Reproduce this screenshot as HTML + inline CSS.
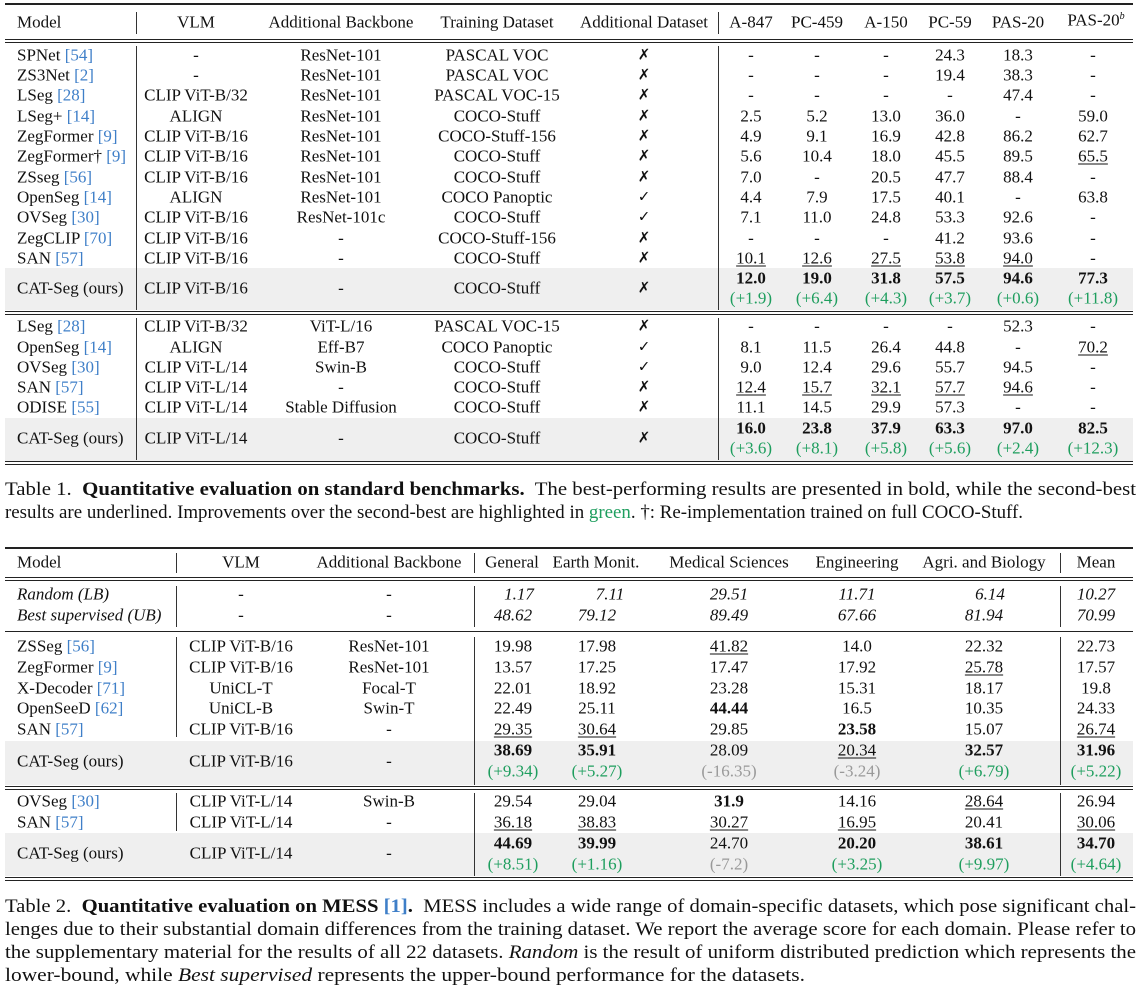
<!DOCTYPE html>
<html><head><meta charset="utf-8"><style>
*{margin:0;padding:0;box-sizing:border-box}
body{width:1141px;height:988px;background:#fff;position:relative;overflow:hidden;font-family:"Liberation Serif","DejaVu Serif",serif;font-size:17px;color:#111}
.c{position:absolute;transform:translate(-50%,-50%);white-space:nowrap;line-height:1}
.l{position:absolute;transform:translateY(-50%);white-space:nowrap;line-height:1}
.h{position:absolute;background:#222}
.v{position:absolute;width:1px;background:#333}
.g{position:absolute;background:#efefef}
.r{color:#3f7fc8}
.gr{color:#1e9e5e}
.gy{color:#999}
.u{text-decoration:underline;text-decoration-thickness:1px;text-underline-offset:2px}
b{font-weight:bold}
i{font-style:italic}
.ck{font-family:"DejaVu Sans",sans-serif;font-size:15px}
.cap{position:absolute;left:5px;white-space:nowrap;line-height:1;font-size:19px;transform-origin:0 50%;word-spacing:0}
</style></head><body>

<!-- ============ TABLE 1 ============ -->
<div class="g" style="left:5px;top:268px;width:1128px;height:42px"></div>
<div class="g" style="left:5px;top:418px;width:1128px;height:43px"></div>
<div class="h" style="left:5px;top:3px;width:1128px;height:1.5px"></div>
<div class="h" style="left:5px;top:39px;width:1128px;height:1px"></div>
<div class="h" style="left:5px;top:42px;width:1128px;height:1px"></div>
<div class="h" style="left:5px;top:311px;width:1128px;height:1px"></div>
<div class="h" style="left:5px;top:314px;width:1128px;height:1px"></div>
<div class="h" style="left:5px;top:461px;width:1128px;height:1px"></div>
<div class="h" style="left:5px;top:464px;width:1128px;height:1px"></div>
<div class="v" style="left:136px;top:12px;height:22px"></div>
<div class="v" style="left:718px;top:12px;height:22px"></div>
<div class="v" style="left:136px;top:46px;height:264px"></div>
<div class="v" style="left:718px;top:46px;height:264px"></div>
<div class="v" style="left:136px;top:318px;height:142px"></div>
<div class="v" style="left:718px;top:318px;height:142px"></div>

<div class="l" style="left:17px;top:22px">Model</div>
<div class="c" style="left:196px;top:22px">VLM</div>
<div class="c" style="left:341px;top:22px">Additional Backbone</div>
<div class="c" style="left:497px;top:22px">Training Dataset</div>
<div class="c" style="left:644px;top:22px">Additional Dataset</div>
<div class="c" style="left:751px;top:22px">A-847</div>
<div class="c" style="left:817px;top:22px">PC-459</div>
<div class="c" style="left:886px;top:22px">A-150</div>
<div class="c" style="left:950px;top:22px">PC-59</div>
<div class="c" style="left:1018px;top:22px">PAS-20</div>
<div class="c" style="left:1096px;top:20px">PAS-20<sup style="font-size:10px;font-style:italic">b</sup></div>

<div class="l" style="left:17px;top:55px">SPNet <span class="r">[54]</span></div>
<div class="c" style="left:196px;top:55px">-</div><div class="c" style="left:341px;top:55px">ResNet-101</div><div class="c" style="left:497px;top:55px">PASCAL VOC</div><div class="c ck" style="left:644px;top:55px">✗</div>
<div class="c" style="left:751px;top:55px">-</div><div class="c" style="left:817px;top:55px">-</div><div class="c" style="left:886px;top:55px">-</div><div class="c" style="left:950px;top:55px">24.3</div><div class="c" style="left:1018px;top:55px">18.3</div><div class="c" style="left:1093px;top:55px">-</div>

<div class="l" style="left:17px;top:75px">ZS3Net <span class="r">[2]</span></div>
<div class="c" style="left:196px;top:75px">-</div><div class="c" style="left:341px;top:75px">ResNet-101</div><div class="c" style="left:497px;top:75px">PASCAL VOC</div><div class="c ck" style="left:644px;top:75px">✗</div>
<div class="c" style="left:751px;top:75px">-</div><div class="c" style="left:817px;top:75px">-</div><div class="c" style="left:886px;top:75px">-</div><div class="c" style="left:950px;top:75px">19.4</div><div class="c" style="left:1018px;top:75px">38.3</div><div class="c" style="left:1093px;top:75px">-</div>

<div class="l" style="left:17px;top:95px">LSeg <span class="r">[28]</span></div>
<div class="c" style="left:196px;top:95px">CLIP ViT-B/32</div><div class="c" style="left:341px;top:95px">ResNet-101</div><div class="c" style="left:497px;top:95px">PASCAL VOC-15</div><div class="c ck" style="left:644px;top:95px">✗</div>
<div class="c" style="left:751px;top:95px">-</div><div class="c" style="left:817px;top:95px">-</div><div class="c" style="left:886px;top:95px">-</div><div class="c" style="left:950px;top:95px">-</div><div class="c" style="left:1018px;top:95px">47.4</div><div class="c" style="left:1093px;top:95px">-</div>

<div class="l" style="left:17px;top:116px">LSeg+ <span class="r">[14]</span></div>
<div class="c" style="left:196px;top:116px">ALIGN</div><div class="c" style="left:341px;top:116px">ResNet-101</div><div class="c" style="left:497px;top:116px">COCO-Stuff</div><div class="c ck" style="left:644px;top:116px">✗</div>
<div class="c" style="left:751px;top:116px">2.5</div><div class="c" style="left:817px;top:116px">5.2</div><div class="c" style="left:886px;top:116px">13.0</div><div class="c" style="left:950px;top:116px">36.0</div><div class="c" style="left:1018px;top:116px">-</div><div class="c" style="left:1093px;top:116px">59.0</div>

<div class="l" style="left:17px;top:136px">ZegFormer <span class="r">[9]</span></div>
<div class="c" style="left:196px;top:136px">CLIP ViT-B/16</div><div class="c" style="left:341px;top:136px">ResNet-101</div><div class="c" style="left:497px;top:136px">COCO-Stuff-156</div><div class="c ck" style="left:644px;top:136px">✗</div>
<div class="c" style="left:751px;top:136px">4.9</div><div class="c" style="left:817px;top:136px">9.1</div><div class="c" style="left:886px;top:136px">16.9</div><div class="c" style="left:950px;top:136px">42.8</div><div class="c" style="left:1018px;top:136px">86.2</div><div class="c" style="left:1093px;top:136px">62.7</div>

<div class="l" style="left:17px;top:156px">ZegFormer† <span class="r">[9]</span></div>
<div class="c" style="left:196px;top:156px">CLIP ViT-B/16</div><div class="c" style="left:341px;top:156px">ResNet-101</div><div class="c" style="left:497px;top:156px">COCO-Stuff</div><div class="c ck" style="left:644px;top:156px">✗</div>
<div class="c" style="left:751px;top:156px">5.6</div><div class="c" style="left:817px;top:156px">10.4</div><div class="c" style="left:886px;top:156px">18.0</div><div class="c" style="left:950px;top:156px">45.5</div><div class="c" style="left:1018px;top:156px">89.5</div><div class="c u" style="left:1093px;top:156px">65.5</div>

<div class="l" style="left:17px;top:177px">ZSseg <span class="r">[56]</span></div>
<div class="c" style="left:196px;top:177px">CLIP ViT-B/16</div><div class="c" style="left:341px;top:177px">ResNet-101</div><div class="c" style="left:497px;top:177px">COCO-Stuff</div><div class="c ck" style="left:644px;top:177px">✗</div>
<div class="c" style="left:751px;top:177px">7.0</div><div class="c" style="left:817px;top:177px">-</div><div class="c" style="left:886px;top:177px">20.5</div><div class="c" style="left:950px;top:177px">47.7</div><div class="c" style="left:1018px;top:177px">88.4</div><div class="c" style="left:1093px;top:177px">-</div>

<div class="l" style="left:17px;top:197px">OpenSeg <span class="r">[14]</span></div>
<div class="c" style="left:196px;top:197px">ALIGN</div><div class="c" style="left:341px;top:197px">ResNet-101</div><div class="c" style="left:497px;top:197px">COCO Panoptic</div><div class="c ck" style="left:644px;top:197px">✓</div>
<div class="c" style="left:751px;top:197px">4.4</div><div class="c" style="left:817px;top:197px">7.9</div><div class="c" style="left:886px;top:197px">17.5</div><div class="c" style="left:950px;top:197px">40.1</div><div class="c" style="left:1018px;top:197px">-</div><div class="c" style="left:1093px;top:197px">63.8</div>

<div class="l" style="left:17px;top:217px">OVSeg <span class="r">[30]</span></div>
<div class="c" style="left:196px;top:217px">CLIP ViT-B/16</div><div class="c" style="left:341px;top:217px">ResNet-101c</div><div class="c" style="left:497px;top:217px">COCO-Stuff</div><div class="c ck" style="left:644px;top:217px">✓</div>
<div class="c" style="left:751px;top:217px">7.1</div><div class="c" style="left:817px;top:217px">11.0</div><div class="c" style="left:886px;top:217px">24.8</div><div class="c" style="left:950px;top:217px">53.3</div><div class="c" style="left:1018px;top:217px">92.6</div><div class="c" style="left:1093px;top:217px">-</div>

<div class="l" style="left:17px;top:238px">ZegCLIP <span class="r">[70]</span></div>
<div class="c" style="left:196px;top:238px">CLIP ViT-B/16</div><div class="c" style="left:341px;top:238px">-</div><div class="c" style="left:497px;top:238px">COCO-Stuff-156</div><div class="c ck" style="left:644px;top:238px">✗</div>
<div class="c" style="left:751px;top:238px">-</div><div class="c" style="left:817px;top:238px">-</div><div class="c" style="left:886px;top:238px">-</div><div class="c" style="left:950px;top:238px">41.2</div><div class="c" style="left:1018px;top:238px">93.6</div><div class="c" style="left:1093px;top:238px">-</div>

<div class="l" style="left:17px;top:258px">SAN <span class="r">[57]</span></div>
<div class="c" style="left:196px;top:258px">CLIP ViT-B/16</div><div class="c" style="left:341px;top:258px">-</div><div class="c" style="left:497px;top:258px">COCO-Stuff</div><div class="c ck" style="left:644px;top:258px">✗</div>
<div class="c u" style="left:751px;top:258px">10.1</div><div class="c u" style="left:817px;top:258px">12.6</div><div class="c u" style="left:886px;top:258px">27.5</div><div class="c u" style="left:950px;top:258px">53.8</div><div class="c u" style="left:1018px;top:258px">94.0</div><div class="c" style="left:1093px;top:258px">-</div>

<div class="l" style="left:17px;top:288px">CAT-Seg (ours)</div>
<div class="c" style="left:196px;top:288px">CLIP ViT-B/16</div><div class="c" style="left:341px;top:288px">-</div><div class="c" style="left:497px;top:288px">COCO-Stuff</div><div class="c ck" style="left:644px;top:288px">✗</div>
<div class="c" style="left:751px;top:278px"><b>12.0</b></div><div class="c" style="left:817px;top:278px"><b>19.0</b></div><div class="c" style="left:886px;top:278px"><b>31.8</b></div><div class="c" style="left:950px;top:278px"><b>57.5</b></div><div class="c" style="left:1018px;top:278px"><b>94.6</b></div><div class="c" style="left:1093px;top:278px"><b>77.3</b></div>
<div class="c gr" style="left:751px;top:298px">(+1.9)</div><div class="c gr" style="left:817px;top:298px">(+6.4)</div><div class="c gr" style="left:886px;top:298px">(+4.3)</div><div class="c gr" style="left:950px;top:298px">(+3.7)</div><div class="c gr" style="left:1018px;top:298px">(+0.6)</div><div class="c gr" style="left:1093px;top:298px">(+11.8)</div>

<div class="l" style="left:17px;top:326px">LSeg <span class="r">[28]</span></div>
<div class="c" style="left:196px;top:326px">CLIP ViT-B/32</div><div class="c" style="left:341px;top:326px">ViT-L/16</div><div class="c" style="left:497px;top:326px">PASCAL VOC-15</div><div class="c ck" style="left:644px;top:326px">✗</div>
<div class="c" style="left:751px;top:326px">-</div><div class="c" style="left:817px;top:326px">-</div><div class="c" style="left:886px;top:326px">-</div><div class="c" style="left:950px;top:326px">-</div><div class="c" style="left:1018px;top:326px">52.3</div><div class="c" style="left:1093px;top:326px">-</div>

<div class="l" style="left:17px;top:347px">OpenSeg <span class="r">[14]</span></div>
<div class="c" style="left:196px;top:347px">ALIGN</div><div class="c" style="left:341px;top:347px">Eff-B7</div><div class="c" style="left:497px;top:347px">COCO Panoptic</div><div class="c ck" style="left:644px;top:347px">✓</div>
<div class="c" style="left:751px;top:347px">8.1</div><div class="c" style="left:817px;top:347px">11.5</div><div class="c" style="left:886px;top:347px">26.4</div><div class="c" style="left:950px;top:347px">44.8</div><div class="c" style="left:1018px;top:347px">-</div><div class="c u" style="left:1093px;top:347px">70.2</div>

<div class="l" style="left:17px;top:367px">OVSeg <span class="r">[30]</span></div>
<div class="c" style="left:196px;top:367px">CLIP ViT-L/14</div><div class="c" style="left:341px;top:367px">Swin-B</div><div class="c" style="left:497px;top:367px">COCO-Stuff</div><div class="c ck" style="left:644px;top:367px">✓</div>
<div class="c" style="left:751px;top:367px">9.0</div><div class="c" style="left:817px;top:367px">12.4</div><div class="c" style="left:886px;top:367px">29.6</div><div class="c" style="left:950px;top:367px">55.7</div><div class="c" style="left:1018px;top:367px">94.5</div><div class="c" style="left:1093px;top:367px">-</div>

<div class="l" style="left:17px;top:387px">SAN <span class="r">[57]</span></div>
<div class="c" style="left:196px;top:387px">CLIP ViT-L/14</div><div class="c" style="left:341px;top:387px">-</div><div class="c" style="left:497px;top:387px">COCO-Stuff</div><div class="c ck" style="left:644px;top:387px">✗</div>
<div class="c u" style="left:751px;top:387px">12.4</div><div class="c u" style="left:817px;top:387px">15.7</div><div class="c u" style="left:886px;top:387px">32.1</div><div class="c u" style="left:950px;top:387px">57.7</div><div class="c u" style="left:1018px;top:387px">94.6</div><div class="c" style="left:1093px;top:387px">-</div>

<div class="l" style="left:17px;top:407px">ODISE <span class="r">[55]</span></div>
<div class="c" style="left:196px;top:407px">CLIP ViT-L/14</div><div class="c" style="left:341px;top:407px">Stable Diffusion</div><div class="c" style="left:497px;top:407px">COCO-Stuff</div><div class="c ck" style="left:644px;top:407px">✗</div>
<div class="c" style="left:751px;top:407px">11.1</div><div class="c" style="left:817px;top:407px">14.5</div><div class="c" style="left:886px;top:407px">29.9</div><div class="c" style="left:950px;top:407px">57.3</div><div class="c" style="left:1018px;top:407px">-</div><div class="c" style="left:1093px;top:407px">-</div>

<div class="l" style="left:17px;top:438px">CAT-Seg (ours)</div>
<div class="c" style="left:196px;top:438px">CLIP ViT-L/14</div><div class="c" style="left:341px;top:438px">-</div><div class="c" style="left:497px;top:438px">COCO-Stuff</div><div class="c ck" style="left:644px;top:438px">✗</div>
<div class="c" style="left:751px;top:428px"><b>16.0</b></div><div class="c" style="left:817px;top:428px"><b>23.8</b></div><div class="c" style="left:886px;top:428px"><b>37.9</b></div><div class="c" style="left:950px;top:428px"><b>63.3</b></div><div class="c" style="left:1018px;top:428px"><b>97.0</b></div><div class="c" style="left:1093px;top:428px"><b>82.5</b></div>
<div class="c gr" style="left:751px;top:448px">(+3.6)</div><div class="c gr" style="left:817px;top:448px">(+8.1)</div><div class="c gr" style="left:886px;top:448px">(+5.8)</div><div class="c gr" style="left:950px;top:448px">(+5.6)</div><div class="c gr" style="left:1018px;top:448px">(+2.4)</div><div class="c gr" style="left:1093px;top:448px">(+12.3)</div>

<div class="cap" data-w="1131" style="top:480px">Table 1.&nbsp; <b>Quantitative evaluation on standard benchmarks.</b>&nbsp; The best-performing results are presented in bold, while the second-best</div>
<div class="cap" data-w="1018" style="top:503px">results are underlined. Improvements over the second-best are highlighted in <span class="gr">green</span>. †: Re-implementation trained on full COCO-Stuff.</div>

<!-- ============ TABLE 2 ============ -->
<div class="g" style="left:5px;top:741px;width:1128px;height:44px"></div>
<div class="g" style="left:5px;top:833px;width:1128px;height:43px"></div>
<div class="h" style="left:5px;top:547px;width:1128px;height:1.5px"></div>
<div class="h" style="left:5px;top:577px;width:1128px;height:1px"></div>
<div class="h" style="left:5px;top:580px;width:1128px;height:1px"></div>
<div class="h" style="left:5px;top:631px;width:1128px;height:1px"></div>
<div class="h" style="left:5px;top:786px;width:1128px;height:1px"></div>
<div class="h" style="left:5px;top:789px;width:1128px;height:1px"></div>
<div class="h" style="left:5px;top:877px;width:1128px;height:1px"></div>
<div class="h" style="left:5px;top:880px;width:1128px;height:1px"></div>
<div class="v" style="left:176px;top:553px;height:20px"></div>
<div class="v" style="left:474px;top:553px;height:20px"></div>
<div class="v" style="left:1060px;top:553px;height:20px"></div>
<div class="v" style="left:176px;top:586px;height:41px"></div>
<div class="v" style="left:474px;top:586px;height:41px"></div>
<div class="v" style="left:1060px;top:586px;height:41px"></div>
<div class="v" style="left:176px;top:637px;height:100px"></div>
<div class="v" style="left:474px;top:637px;height:148px"></div>
<div class="v" style="left:1060px;top:637px;height:148px"></div>
<div class="v" style="left:176px;top:793px;height:38px"></div>
<div class="v" style="left:474px;top:793px;height:83px"></div>
<div class="v" style="left:1060px;top:793px;height:83px"></div>

<div class="l" style="left:17px;top:562px">Model</div>
<div class="c" style="left:241px;top:562px">VLM</div>
<div class="c" style="left:389px;top:562px">Additional Backbone</div>
<div class="c" style="left:512px;top:562px">General</div>
<div class="c" style="left:596px;top:562px">Earth Monit.</div>
<div class="c" style="left:729px;top:562px">Medical Sciences</div>
<div class="c" style="left:857px;top:562px">Engineering</div>
<div class="c" style="left:984px;top:562px">Agri. and Biology</div>
<div class="c" style="left:1096px;top:562px">Mean</div>

<div class="l" style="left:17px;top:594px"><i>Random (LB)</i></div>
<div class="c" style="left:241px;top:594px">-</div><div class="c" style="left:389px;top:594px">-</div>
<div class="c" style="left:519px;top:594px"><i>1.17</i></div><div class="c" style="left:610px;top:594px"><i>7.11</i></div><div class="c" style="left:729px;top:594px"><i>29.51</i></div><div class="c" style="left:857px;top:594px"><i>11.71</i></div><div class="c" style="left:990px;top:594px"><i>6.14</i></div><div class="c" style="left:1096px;top:594px"><i>10.27</i></div>
<div class="l" style="left:17px;top:615px"><i>Best supervised (UB)</i></div>
<div class="c" style="left:241px;top:615px">-</div><div class="c" style="left:389px;top:615px">-</div>
<div class="c" style="left:513px;top:615px"><i>48.62</i></div><div class="c" style="left:597px;top:615px"><i>79.12</i></div><div class="c" style="left:729px;top:615px"><i>89.49</i></div><div class="c" style="left:857px;top:615px"><i>67.66</i></div><div class="c" style="left:984px;top:615px"><i>81.94</i></div><div class="c" style="left:1096px;top:615px"><i>70.99</i></div>

<div class="l" style="left:17px;top:646px">ZSSeg <span class="r">[56]</span></div>
<div class="c" style="left:241px;top:646px">CLIP ViT-B/16</div><div class="c" style="left:389px;top:646px">ResNet-101</div>
<div class="c" style="left:513px;top:646px">19.98</div><div class="c" style="left:597px;top:646px">17.98</div><div class="c u" style="left:729px;top:646px">41.82</div><div class="c" style="left:857px;top:646px">14.0</div><div class="c" style="left:984px;top:646px">22.32</div><div class="c" style="left:1096px;top:646px">22.73</div>

<div class="l" style="left:17px;top:667px">ZegFormer <span class="r">[9]</span></div>
<div class="c" style="left:241px;top:667px">CLIP ViT-B/16</div><div class="c" style="left:389px;top:667px">ResNet-101</div>
<div class="c" style="left:513px;top:667px">13.57</div><div class="c" style="left:597px;top:667px">17.25</div><div class="c" style="left:729px;top:667px">17.47</div><div class="c" style="left:857px;top:667px">17.92</div><div class="c u" style="left:984px;top:667px">25.78</div><div class="c" style="left:1096px;top:667px">17.57</div>

<div class="l" style="left:17px;top:688px">X-Decoder <span class="r">[71]</span></div>
<div class="c" style="left:241px;top:688px">UniCL-T</div><div class="c" style="left:389px;top:688px">Focal-T</div>
<div class="c" style="left:513px;top:688px">22.01</div><div class="c" style="left:597px;top:688px">18.92</div><div class="c" style="left:729px;top:688px">23.28</div><div class="c" style="left:857px;top:688px">15.31</div><div class="c" style="left:984px;top:688px">18.17</div><div class="c" style="left:1096px;top:688px">19.8</div>

<div class="l" style="left:17px;top:708px">OpenSeeD <span class="r">[62]</span></div>
<div class="c" style="left:241px;top:708px">UniCL-B</div><div class="c" style="left:389px;top:708px">Swin-T</div>
<div class="c" style="left:513px;top:708px">22.49</div><div class="c" style="left:597px;top:708px">25.11</div><div class="c" style="left:729px;top:708px"><b>44.44</b></div><div class="c" style="left:857px;top:708px">16.5</div><div class="c" style="left:984px;top:708px">10.35</div><div class="c" style="left:1096px;top:708px">24.33</div>

<div class="l" style="left:17px;top:729px">SAN <span class="r">[57]</span></div>
<div class="c" style="left:241px;top:729px">CLIP ViT-B/16</div><div class="c" style="left:389px;top:729px">-</div>
<div class="c u" style="left:513px;top:729px">29.35</div><div class="c u" style="left:597px;top:729px">30.64</div><div class="c" style="left:729px;top:729px">29.85</div><div class="c" style="left:857px;top:729px"><b>23.58</b></div><div class="c" style="left:984px;top:729px">15.07</div><div class="c u" style="left:1096px;top:729px">26.74</div>

<div class="l" style="left:17px;top:761px">CAT-Seg (ours)</div>
<div class="c" style="left:241px;top:761px">CLIP ViT-B/16</div><div class="c" style="left:389px;top:761px">-</div>
<div class="c" style="left:513px;top:750px"><b>38.69</b></div><div class="c" style="left:597px;top:750px"><b>35.91</b></div><div class="c" style="left:729px;top:750px">28.09</div><div class="c u" style="left:857px;top:750px">20.34</div><div class="c" style="left:984px;top:750px"><b>32.57</b></div><div class="c" style="left:1096px;top:750px"><b>31.96</b></div>
<div class="c gr" style="left:513px;top:771px">(+9.34)</div><div class="c gr" style="left:597px;top:771px">(+5.27)</div><div class="c gy" style="left:729px;top:771px">(-16.35)</div><div class="c gy" style="left:857px;top:771px">(-3.24)</div><div class="c gr" style="left:984px;top:771px">(+6.79)</div><div class="c gr" style="left:1096px;top:771px">(+5.22)</div>

<div class="l" style="left:17px;top:801px">OVSeg <span class="r">[30]</span></div>
<div class="c" style="left:241px;top:801px">CLIP ViT-L/14</div><div class="c" style="left:389px;top:801px">Swin-B</div>
<div class="c" style="left:513px;top:801px">29.54</div><div class="c" style="left:597px;top:801px">29.04</div><div class="c" style="left:729px;top:801px"><b>31.9</b></div><div class="c" style="left:857px;top:801px">14.16</div><div class="c u" style="left:984px;top:801px">28.64</div><div class="c" style="left:1096px;top:801px">26.94</div>

<div class="l" style="left:17px;top:822px">SAN <span class="r">[57]</span></div>
<div class="c" style="left:241px;top:822px">CLIP ViT-L/14</div><div class="c" style="left:389px;top:822px">-</div>
<div class="c u" style="left:513px;top:822px">36.18</div><div class="c u" style="left:597px;top:822px">38.83</div><div class="c u" style="left:729px;top:822px">30.27</div><div class="c u" style="left:857px;top:822px">16.95</div><div class="c" style="left:984px;top:822px">20.41</div><div class="c u" style="left:1096px;top:822px">30.06</div>

<div class="l" style="left:17px;top:853px">CAT-Seg (ours)</div>
<div class="c" style="left:241px;top:853px">CLIP ViT-L/14</div><div class="c" style="left:389px;top:853px">-</div>
<div class="c" style="left:513px;top:843px"><b>44.69</b></div><div class="c" style="left:597px;top:843px"><b>39.99</b></div><div class="c" style="left:729px;top:843px">24.70</div><div class="c" style="left:857px;top:843px"><b>20.20</b></div><div class="c" style="left:984px;top:843px"><b>38.61</b></div><div class="c" style="left:1096px;top:843px"><b>34.70</b></div>
<div class="c gr" style="left:513px;top:864px">(+8.51)</div><div class="c gr" style="left:597px;top:864px">(+1.16)</div><div class="c gy" style="left:729px;top:864px">(-7.2)</div><div class="c gr" style="left:857px;top:864px">(+3.25)</div><div class="c gr" style="left:984px;top:864px">(+9.97)</div><div class="c gr" style="left:1096px;top:864px">(+4.64)</div>

<div class="cap" data-w="1131" style="top:897px">Table 2.&nbsp; <b>Quantitative evaluation on MESS <span class="r">[1]</span>.</b>&nbsp; MESS includes a wide range of domain-specific datasets, which pose significant chal-</div>
<div class="cap" data-w="1131" style="top:920px">lenges due to their substantial domain differences from the training dataset. We report the average score for each domain. Please refer to</div>
<div class="cap" data-w="1131" style="top:943px">the supplementary material for the results of all 22 datasets. <i>Random</i> is the result of uniform distributed prediction which represents the</div>
<div class="cap" data-w="800" style="top:966px">lower-bound, while <i>Best supervised</i> represents the upper-bound performance for the datasets.</div>

<script>
document.querySelectorAll('.cap').forEach(function(e){
  var w=e.getBoundingClientRect().width;
  var t=parseFloat(e.getAttribute('data-w'));
  if(w>0){e.style.transform='scaleX('+(t/w)+')';}
});
</script>
</body></html>
